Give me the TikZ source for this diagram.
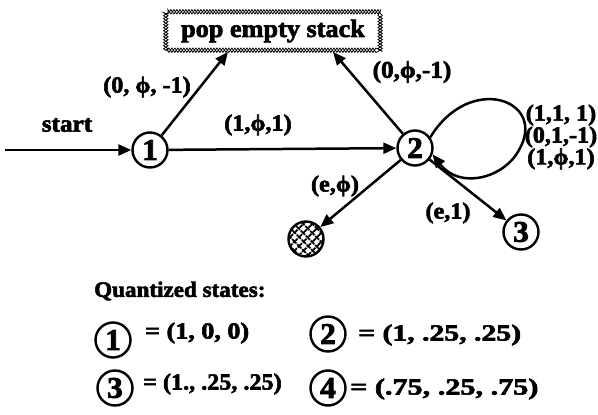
\documentclass[tikz,border=0pt]{standalone}
\usepackage{fontspec}
\setmainfont{Liberation Serif}[FakeStretch=1.05, BoldFeatures={FakeBold=2.5}]
\usetikzlibrary{arrows.meta,decorations.pathmorphing,patterns.meta}
\begin{document}
\begin{tikzpicture}[x=1pt,y=-1pt,
  lbl/.style={font=\fontsize{23}{23}\selectfont\bfseries, inner sep=0pt},
  st/.style={circle, draw, line width=2.4pt, minimum size=35pt, inner sep=0pt, font=\fontsize{30}{30}\selectfont\bfseries},
  arr/.style={line width=2.5pt, -{Triangle[length=13pt,width=11pt]}},
  zz/.style={line width=0.8pt, decorate, decoration={zigzag, segment length=6pt, amplitude=#1}},
  hatch/.style={pattern={Lines[angle=45,distance=6.5pt,line width=2.2pt]},
    postaction={pattern={Lines[angle=-45,distance=6.5pt,line width=2.2pt]}}},
]
\useasboundingbox (0,0) rectangle (598,415);
% pop empty stack box
\node[lbl, font=\fontsize{25}{25}\selectfont\bfseries, minimum width=214pt, minimum height=38pt] (pop) at (273,31) {pop empty stack};
\draw[zz=2.2pt] (pop.south west) rectangle (pop.north east);
\draw[zz=-2.2pt] (pop.south west) rectangle (pop.north east);
\coordinate (p1) at (228,52);
\coordinate (p2) at (333,52);
% states
\node[st] (n1) at (150,150) {1};
\node[st] (n2) at (415,148) {2};
\node[st] (n3) at (521,232) {3};
\node[st, hatch] (n4) at (306,239) {};
% start
\coordinate (s) at (5,150);
\draw[arr] (s) -- (n1);
\node[lbl, font=\fontsize{24}{24}\selectfont\bfseries] (lstart) at (67,125) {start};
% edges
\draw[arr] (n1) -- (n2);
\node[lbl] (l12) at (258,125) {(1,ϕ,1)};
\draw[arr] (n1) -- (p1);
\node[lbl] (l1p) at (147,87) {(0, ϕ, -1)};
\draw[arr] (n2) -- (p2);
\node[lbl, font=\fontsize{24}{24}\selectfont\bfseries] (l2p) at (412,72) {(0,ϕ,-1)};
\draw[arr] (n2.35) .. controls (470,72) and (548,100) .. (519,150)
  .. controls (504,178) and (460,190) .. (n2.-20);
\node[lbl, align=center, font=\fontsize{23}{17.5}\selectfont\bfseries] (lloop) at (561,137) {(1,1, 1)\\(0,1,-1)\\(1,ϕ,1)};
\draw[arr] (n2) -- (n4);
\node[lbl] (l24) at (335,186) {(e,ϕ)};
\draw[arr] (n2) -- (n3);
\node[lbl] (l23) at (448,213) {(e,1)};
% legend
\node[lbl, anchor=west, font=\fontsize{22}{22}\selectfont\bfseries] (qs) at (94,291) {Quantized states:};
\node[st] (q1) at (113,340) {1};
\node[st] (q2) at (328,334) {2};
\node[st] (q3) at (115,388) {3};
\node[st] (q4) at (328,388) {4};
\node[lbl, anchor=west] (t1) at (145,333) {\scalebox{1.08}[1]{= (1, 0, 0)}};
\node[lbl, anchor=west] (t2) at (358,335) {\scalebox{1.23}[1]{= (1, .25, .25)}};
\node[lbl, anchor=west] (t3) at (143,384) {\scalebox{1.0}[1]{= (1., .25, .25)}};
\node[lbl, anchor=west] (t4) at (350,389) {\scalebox{1.25}[1]{= (.75, .25, .75)}};
\end{tikzpicture}
\end{document}
